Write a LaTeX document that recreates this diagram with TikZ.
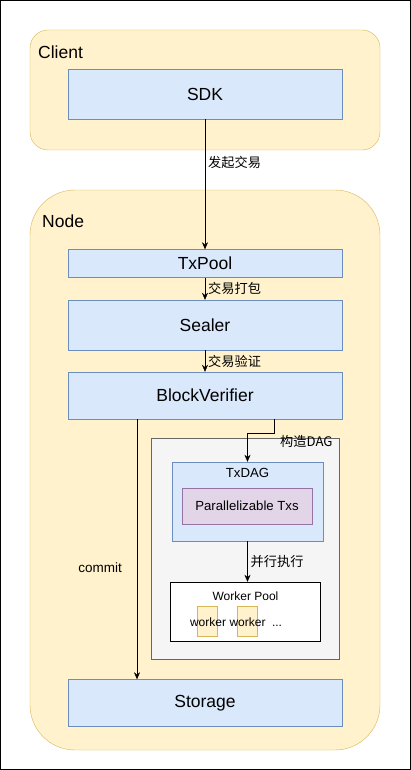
\documentclass[tikz,border=0pt]{standalone}
\usepackage{fontspec}
\setmainfont{Liberation Sans}
\newfontfamily\cjk{Noto Sans CJK SC}
\usetikzlibrary{arrows.meta}
\definecolor{groupfill}{HTML}{FFF2CC}
\definecolor{groupline}{HTML}{D6B656}
\definecolor{modfill}{HTML}{DAE8FC}
\definecolor{modline}{HTML}{6C8EBF}
\definecolor{txfill}{HTML}{E1D5E7}
\definecolor{txline}{HTML}{9673A6}
\definecolor{execfill}{HTML}{F5F5F5}
\definecolor{execline}{HTML}{666666}

\begin{document}
\begin{tikzpicture}[x=1pt,y=-1pt,->,>={Stealth[length=7pt,width=6pt]}]
  \def\w{274}
  \def\fs{\fontsize{13.2}{16}\selectfont}

\tikzstyle{group}=[draw=groupline,fill=groupfill,minimum width=350pt,inner sep=0pt]
\tikzstyle{module}=[draw=modline,fill=modfill,minimum width=\w pt,inner sep=0pt,font=\fontsize{17.5}{21}\selectfont]
\tikzstyle{grouptitle}=[anchor=west,inner sep=0pt,font=\fontsize{17.5}{21}\selectfont]
\tikzstyle{smalltext}=[inner sep=0pt,font=\fs]
\tikzstyle{workertext}=[inner sep=0pt,font=\fontsize{12}{14}\selectfont]
\tikzstyle{flowlabel}=[right,inner sep=3pt,font=\cjk\fs]

\useasboundingbox (0,0) rectangle (411,770);
\draw[-,line width=1.3pt] (0.65,0.65) rectangle (410.35,769.35);

\node[group,rounded corners=18pt,minimum height=120pt] (client) at (205,90) {};
\node[grouptitle] (clientlbl) at (38,52) {Client};
\node[group,rounded corners=45pt,minimum height=560pt] (node) at (205,470) {};
\node[grouptitle] (nodelbl) at (42,221) {Node};

\node[module,minimum height=50pt] (sdk) at (205,94) {SDK};
\node[module,minimum height=28pt] (txpool) at (205,263.5) {TxPool};
\node[module,minimum height=50pt] (sealer) at (205,325) {Sealer};
\node[module,minimum height=47pt] (verifier) at (205,395.5) {BlockVerifier};
\node[module,minimum height=47pt] (storage) at (205,703) {Storage};

\node[draw=execline,fill=execfill,minimum width=188pt,minimum height=221pt] (exec) at (245,548.5) {};
\node[draw=modline,fill=modfill,minimum width=151pt,minimum height=79pt] (dag) at (247.5,501.5) {};
\node[smalltext] (daglbl) at (247.5,473) {TxDAG};
\node[draw=txline,fill=txfill,minimum width=130pt,minimum height=36pt,smalltext] (txs) at (247,506) {Parallelizable Txs};
\node[draw=black,fill=white,minimum width=150pt,minimum height=59pt] (pool) at (245,611.5) {};
\node[workertext] (poollbl) at (245.5,596) {Worker Pool};
\node[draw=groupline,fill=groupfill,minimum width=20pt,minimum height=30pt] (w1) at (207,621) {};
\node[draw=groupline,fill=groupfill,minimum width=20pt,minimum height=30pt] (w2) at (247,621) {};
\node[workertext] (w1lbl) at (208,622) {worker};
\node[workertext] (w2lbl) at (247.5,622) {worker};
\node[workertext,anchor=base] (more) at (277,626.3) {...};

\draw (sdk) -- node[flowlabel,pos=0.33] {发起交易} (txpool);
\draw (txpool) -- node[flowlabel] {交易打包} (sealer);
\draw (sealer) -- node[flowlabel] {交易验证} (verifier);
\draw ([xshift=69pt]verifier.south) -- ++(0,14) node[flowlabel,xshift=3pt,yshift=-8pt] {构造DAG} -| (dag.north);
\draw (dag.south) -- node[flowlabel] {并行执行} (dag.south |- pool.north);
\draw ([xshift=-68pt]verifier.south) -- node[pos=0.57,left=15pt,font=\fontsize{13.5}{16}\selectfont,inner sep=0pt] {commit} ([xshift=-68pt]storage.north);
\end{tikzpicture}
\end{document}
